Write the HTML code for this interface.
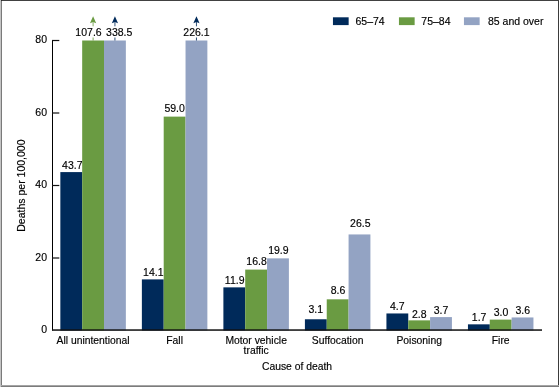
<!DOCTYPE html>
<html><head><meta charset="utf-8"><style>
html,body{margin:0;padding:0;background:#fff;}
body{width:560px;height:387px;overflow:hidden;position:relative;}
svg{position:absolute;left:0;top:0;}
text{font-family:"Liberation Sans", sans-serif;fill:#000;stroke:#000;stroke-width:0.15px;}
svg{will-change:transform;}
</style></head><body>
<svg width="560" height="387" viewBox="0 0 560 387">
<rect x="0" y="0" width="560" height="387" fill="#fff"/>
<rect x="60.35" y="172.09" width="21.83" height="158.41" fill="#002a5a"/>
<text x="72.27" y="168.59" text-anchor="middle" font-size="10.5" >43.7</text>
<rect x="82.18" y="40.50" width="21.83" height="290.00" fill="#6a9b42"/>
<path d="M93.10 16.2 L96.20 23.2 L93.10 22.1 L90.00 23.2 Z" fill="#6a9b42"/>
<rect x="92.60" y="21" width="1" height="5.3" fill="#6a9b42" opacity="0.8"/>
<rect x="92.60" y="37.5" width="1" height="3" fill="#6a9b42" opacity="0.85"/>
<text x="88.50" y="35.50" text-anchor="middle" font-size="10.5" >107.6</text>
<rect x="104.02" y="40.50" width="21.83" height="290.00" fill="#93a3c3"/>
<path d="M114.93 16.2 L118.03 23.2 L114.93 22.1 L111.83 23.2 Z" fill="#002a5a"/>
<rect x="114.43" y="21" width="1" height="5.3" fill="#002a5a" opacity="0.8"/>
<rect x="114.43" y="37.5" width="1" height="3" fill="#002a5a" opacity="0.85"/>
<text x="119.23" y="35.50" text-anchor="middle" font-size="10.5" >338.5</text>
<text x="93.10" y="344.00" text-anchor="middle" font-size="10.35" >All unintentional</text>
<rect x="141.87" y="279.39" width="21.83" height="51.11" fill="#002a5a"/>
<text x="153.29" y="276.19" text-anchor="middle" font-size="10.5" >14.1</text>
<rect x="163.70" y="116.62" width="21.83" height="213.88" fill="#6a9b42"/>
<text x="174.62" y="112.12" text-anchor="middle" font-size="10.5" >59.0</text>
<rect x="185.54" y="40.50" width="21.83" height="290.00" fill="#93a3c3"/>
<path d="M196.45 16.2 L199.55 23.2 L196.45 22.1 L193.35 23.2 Z" fill="#002a5a"/>
<rect x="195.95" y="21" width="1" height="5.3" fill="#002a5a" opacity="0.8"/>
<rect x="195.95" y="37.5" width="1" height="3" fill="#002a5a" opacity="0.85"/>
<text x="196.45" y="35.50" text-anchor="middle" font-size="10.5" >226.1</text>
<text x="174.62" y="344.00" text-anchor="middle" font-size="10.35" >Fall</text>
<rect x="223.39" y="287.36" width="21.83" height="43.14" fill="#002a5a"/>
<text x="234.71" y="284.36" text-anchor="middle" font-size="10.5" >11.9</text>
<rect x="245.22" y="269.60" width="21.83" height="60.90" fill="#6a9b42"/>
<text x="256.54" y="265.10" text-anchor="middle" font-size="10.5" >16.8</text>
<rect x="267.06" y="258.36" width="21.83" height="72.14" fill="#93a3c3"/>
<text x="278.37" y="253.56" text-anchor="middle" font-size="10.5" >19.9</text>
<text x="256.14" y="344.00" text-anchor="middle" font-size="10.35" >Motor vehicle</text>
<text x="256.14" y="354.00" text-anchor="middle" font-size="10.35" >traffic</text>
<rect x="304.91" y="319.26" width="21.83" height="11.24" fill="#002a5a"/>
<text x="315.83" y="312.96" text-anchor="middle" font-size="10.5" >3.1</text>
<rect x="326.74" y="299.32" width="21.83" height="31.18" fill="#6a9b42"/>
<text x="338.06" y="294.32" text-anchor="middle" font-size="10.5" >8.6</text>
<rect x="348.58" y="234.44" width="21.83" height="96.06" fill="#93a3c3"/>
<text x="360.29" y="226.64" text-anchor="middle" font-size="10.5" >26.5</text>
<text x="337.66" y="344.00" text-anchor="middle" font-size="10.35" >Suffocation</text>
<rect x="386.43" y="313.46" width="21.83" height="17.04" fill="#002a5a"/>
<text x="397.35" y="310.46" text-anchor="middle" font-size="10.5" >4.7</text>
<rect x="408.26" y="320.35" width="21.83" height="10.15" fill="#6a9b42"/>
<text x="419.18" y="317.55" text-anchor="middle" font-size="10.5" >2.8</text>
<rect x="430.10" y="317.09" width="21.83" height="13.41" fill="#93a3c3"/>
<text x="441.01" y="314.09" text-anchor="middle" font-size="10.5" >3.7</text>
<text x="419.18" y="344.00" text-anchor="middle" font-size="10.35" >Poisoning</text>
<rect x="467.95" y="324.34" width="21.83" height="6.16" fill="#002a5a"/>
<text x="479.17" y="321.14" text-anchor="middle" font-size="10.5" >1.7</text>
<rect x="489.78" y="319.62" width="21.83" height="10.88" fill="#6a9b42"/>
<text x="501.00" y="315.62" text-anchor="middle" font-size="10.5" >3.0</text>
<rect x="511.62" y="317.45" width="21.83" height="13.05" fill="#93a3c3"/>
<text x="522.83" y="314.25" text-anchor="middle" font-size="10.5" >3.6</text>
<text x="500.70" y="344.00" text-anchor="middle" font-size="10.35" >Fire</text>
<rect x="52.0" y="40" width="1" height="290.5" fill="#000"/>
<rect x="52.0" y="39.90" width="7.3" height="1.2" fill="#111"/>
<text x="47.00" y="43.10" text-anchor="end" font-size="10.5" >80</text>
<rect x="52.0" y="112.40" width="7.3" height="1.2" fill="#111"/>
<text x="47.00" y="115.60" text-anchor="end" font-size="10.5" >60</text>
<rect x="52.0" y="184.90" width="7.3" height="1.2" fill="#111"/>
<text x="47.00" y="188.10" text-anchor="end" font-size="10.5" >40</text>
<rect x="52.0" y="257.40" width="7.3" height="1.2" fill="#111"/>
<text x="47.00" y="260.60" text-anchor="end" font-size="10.5" >20</text>
<text x="47.00" y="332.50" text-anchor="end" font-size="10.5" >0</text>
<rect x="52.0" y="329.3" width="490.0" height="1.5" fill="#111"/>
<text x="297.00" y="370.00" text-anchor="middle" font-size="10.35" >Cause of death</text>
<text x="0" y="0" text-anchor="middle" font-size="10.5" transform="translate(24.7 185.6) rotate(-90)">Deaths per 100,000</text>
<rect x="332.95" y="17.30" width="15.70" height="7.80" fill="#002a5a"/>
<text x="355.50" y="24.80" text-anchor="start" font-size="10.5" >65–74</text>
<rect x="398.95" y="17.30" width="15.70" height="7.80" fill="#6a9b42"/>
<text x="421.30" y="24.80" text-anchor="start" font-size="10.5" >75–84</text>
<rect x="463.95" y="17.30" width="15.70" height="7.80" fill="#93a3c3"/>
<text x="488.00" y="24.80" text-anchor="start" font-size="10.5" >85 and over</text>
<rect x="0" y="0" width="559" height="1" fill="#414141"/>
<rect x="1" y="0" width="1" height="1" fill="#2b2b2b"/>
<rect x="0" y="0" width="1" height="387" fill="#c4c4c4"/>
<rect x="1" y="1" width="1" height="385" fill="#7a7a7a"/>
<rect x="558" y="0" width="1" height="386" fill="#3b3b3b"/>
<rect x="1" y="385" width="558" height="1" fill="#a5a5a5"/>
<rect x="1" y="386" width="558" height="1" fill="#7c7c7c"/>
</svg>
</body></html>
